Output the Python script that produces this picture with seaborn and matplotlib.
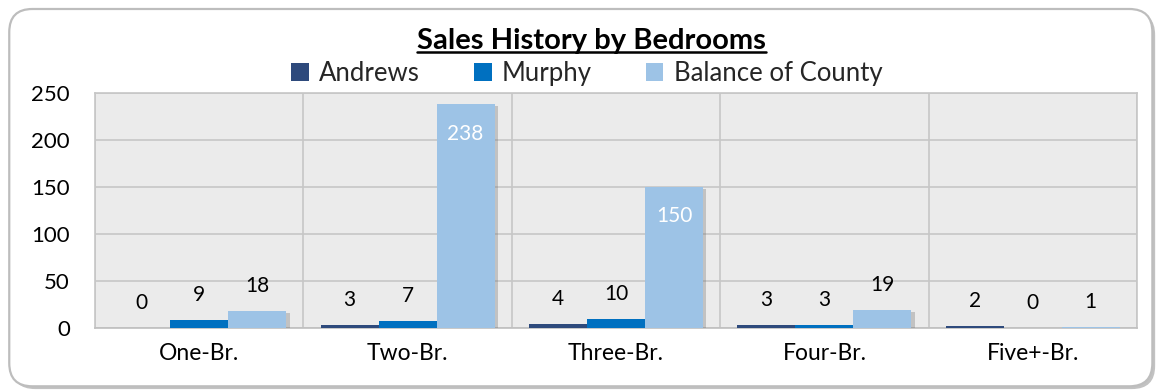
import matplotlib
matplotlib.use("Agg")
import matplotlib.pyplot as plt
import matplotlib.patheffects as pe
from matplotlib.patches import FancyBboxPatch
import pandas as pd
import seaborn as sns

categories = ["One-Br.", "Two-Br.", "Three-Br.", "Four-Br.", "Five+-Br."]
series_names = ["Andrews", "Murphy", "Balance of County"]
andrews = [0, 3, 4, 3, 2]
murphy = [9, 7, 10, 3, 0]
balance = [18, 238, 150, 19, 1]
y_ticks = [0, 50, 100, 150, 200, 250]
colors = ["#2E4A7C", "#0070C0", "#9DC3E6"]
title = "Sales History by Bedrooms"

df = pd.DataFrame({
    "Bedrooms": categories * 3,
    "Series": [s for s in series_names for _ in categories],
    "Sales": andrews + murphy + balance,
})

sns.set_theme(style="white")
plt.rcParams["font.family"] = ["Lato", "DejaVu Sans"]

fig = plt.figure(figsize=(11.57, 3.91), dpi=100)
ax = fig.add_axes([0.0821, 0.161, 0.9006, 0.601])

# rounded chart frame with a soft shadow
frame = FancyBboxPatch((0.008, 0.012), 0.988, 0.965,
                       boxstyle="round,pad=0,rounding_size=0.02",
                       transform=fig.transFigure, facecolor="white",
                       edgecolor="#BDBDBD", linewidth=1.6, zorder=-10,
                       mutation_aspect=1157 / 391,
                       path_effects=[pe.SimplePatchShadow(offset=(2, -2), shadow_rgbFace="#9A9A9A", alpha=0.6),
                                     pe.Normal()])
fig.patches.append(frame)

sns.barplot(data=df, x="Bedrooms", y="Sales", hue="Series", order=categories,
            hue_order=series_names, palette=colors, width=0.835, gap=0,
            saturation=1, ax=ax, zorder=3, edgecolor="none", linewidth=0)

ax.set_facecolor("#EBEBEB")
ax.set_ylim(0, 250)
ax.set_xlim(-0.5, len(categories) - 0.5)
ax.set_yticks(y_ticks)
ax.set_yticklabels([str(t) for t in y_ticks])
for b in range(len(categories) + 1):
    ax.axvline(b - 0.5, color="#C6C6C6", lw=1.2, zorder=1)
for t in y_ticks:
    ax.axhline(t, color="#C6C6C6", lw=1.2, zorder=1)
for s in ax.spines.values():
    s.set_color("#C6C6C6")
    s.set_linewidth(1.2)
ax.spines["bottom"].set_color("#BFBFBF")
ax.set_xlabel("")
ax.set_ylabel("")
ax.tick_params(axis="both", length=0, labelsize=16, colors="black")
ax.tick_params(axis="y", pad=18)
ax.tick_params(axis="x", pad=11)
ax.tick_params(axis="x", labelsize=16.5)

values = [andrews, murphy, balance]
for container, vals in zip(ax.containers, values):
    for bar, v in zip(container, vals):
        bar.set_path_effects([pe.SimplePatchShadow(offset=(2.5, -1.5), shadow_rgbFace="#666666", alpha=0.3),
                              pe.Normal()])
        cx = bar.get_x() + bar.get_width() / 2
        if v > 100:
            ax.annotate(str(v), (cx, v), xytext=(0, -21), textcoords="offset points",
                        ha="center", va="center", fontsize=15, color="white", zorder=6)
        else:
            ax.annotate(str(v), (cx, v), xytext=(0, 18), textcoords="offset points",
                        ha="center", va="center", fontsize=15, color="black", zorder=6)

leg = ax.legend(loc="lower center", bbox_to_anchor=(0.472, 0.985), ncol=3, frameon=False,
                fontsize=18.5, handlelength=0.68, handleheight=0.68, handletextpad=0.4,
                columnspacing=2.1, borderaxespad=0)

fig.text(0.511, 0.895, title, ha="center", va="center", fontsize=21,
         fontweight="bold", color="black")
# underline under the title
fig.canvas.draw()
renderer = fig.canvas.get_renderer()
ttl = fig.texts[-1]
bb = ttl.get_window_extent(renderer).transformed(fig.transFigure.inverted())
fig.add_artist(plt.Line2D([bb.x0, bb.x1], [bb.y0 + 0.004, bb.y0 + 0.004],
                          transform=fig.transFigure, color="black", lw=1.8))

fig.savefig("out.png", dpi=100)
